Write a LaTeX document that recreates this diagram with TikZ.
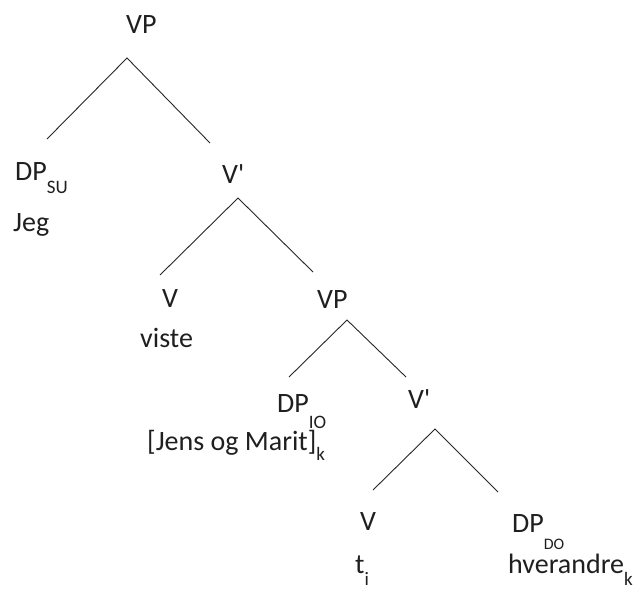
\documentclass[tikz,border=0pt]{standalone}
\usepackage{fontspec}
\setmainfont{Carlito}[Ligatures=TeXOff]
\newcommand\lblfont{\fontsize{28}{30}\selectfont}
\newcommand\subsz[3][19pt]{\raisebox{-#2}{\fontsize{#1}{20}\selectfont #3}}
\tikzset{
  lbl/.style={anchor=base west, inner sep=0pt, font=\lblfont, text=black!88},
  branch/.style={line width=0.9pt, black!85}
}
\begin{document}
\begin{tikzpicture}[x=1pt,y=-1pt]
\path[use as bounding box, fill=white] (0,0) rectangle (644,589);
% labels
\node[lbl] (vp1) at (126,33) {VP};
\node[lbl] (dpsu) at (15,180) {DP\subsz{13pt}{SU}};
\node[lbl] (jeg) at (13,231) {Jeg};
\node[lbl] (vb1) at (222,183) {V'};
\node[lbl] (v1) at (162,307) {V};
\node[lbl] (viste) at (140,347) {viste};
\node[lbl] (vp2) at (317,308) {VP};
\node[lbl] (dpio) at (277,412) {DP\subsz{16pt}{IO}};
\node[lbl] (jm) at (147,450) {[Jens og Marit]\subsz{10pt}{k}};
\node[lbl] (vb2) at (408,408) {V'};
\node[lbl] (v2) at (360,530) {V};
\node[lbl] (ti) at (355,573) {t\subsz{12pt}{i}};
\node[lbl] (dpdo) at (512,532) {DP\subsz[16pt]{17pt}{DO}};
\node[lbl] (hv) at (508,573) {hverandre\subsz{12pt}{k}};
% branch points
\coordinate (a1) at (127,58);
\coordinate (a1l) at (47,139);
\coordinate (a1r) at (210,143);
\coordinate (a2) at (238,198);
\coordinate (a2l) at (160,275);
\coordinate (a2r) at (313,272);
\coordinate (a3) at (347,320);
\coordinate (a3l) at (289,377);
\coordinate (a3r) at (406,377);
\coordinate (a4) at (435,429);
\coordinate (a4l) at (373,490);
\coordinate (a4r) at (498,492);
\draw[branch] (a1l) -- (a1) -- (a1r);
\draw[branch] (a2l) -- (a2) -- (a2r);
\draw[branch] (a3l) -- (a3) -- (a3r);
\draw[branch] (a4l) -- (a4) -- (a4r);
\end{tikzpicture}
\end{document}
